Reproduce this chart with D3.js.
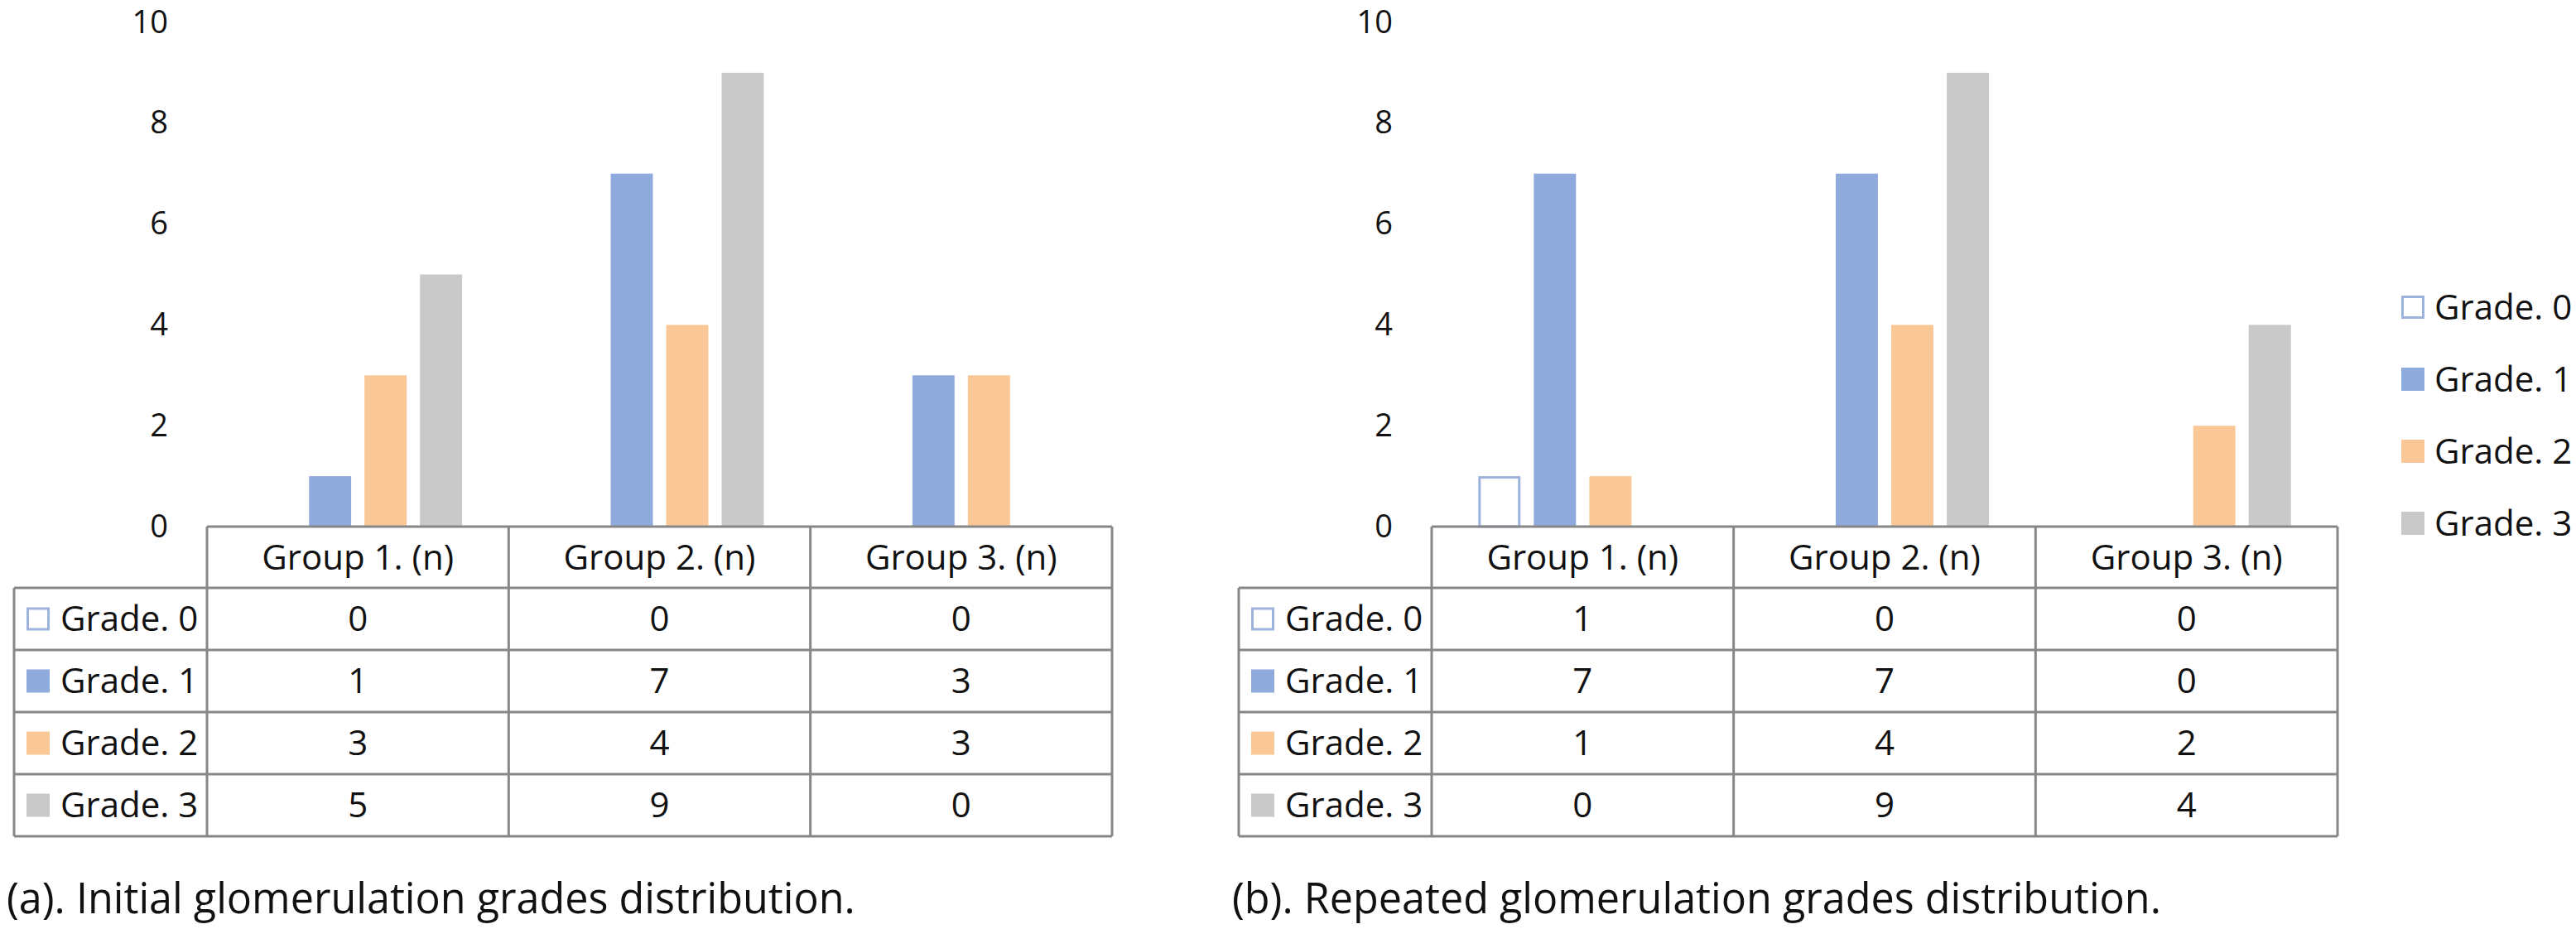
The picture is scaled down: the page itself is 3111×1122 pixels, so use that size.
<!DOCTYPE html>
<html>
<head>
<meta charset="utf-8">
<script src="https://cdn.jsdelivr.net/npm/d3@7"></script>
<style>
  body { margin: 0; background: #fff; }
  text { font-family: "Open Sans", sans-serif; fill: #111; }
</style>
</head>
<body>
<script>
// Chart data
let groups = ["Group 1. (n)", "Group 2. (n)", "Group 3. (n)"];
let grades = ["Grade. 0", "Grade. 1", "Grade. 2", "Grade. 3"];
// one row per grade, one value per group
let initialCounts = [[0, 0, 0], [1, 7, 3], [3, 4, 3], [5, 9, 0]];
let repeatedCounts = [[1, 0, 0], [7, 7, 0], [1, 4, 2], [0, 9, 4]];
let yTicks = [0, 2, 4, 6, 8, 10];
let captionA = "(a). Initial glomerulation grades distribution.";
let captionB = "(b). Repeated glomerulation grades distribution.";

let width = 3111;
let height = 1122;

// Colour palette
let grade_fill = ["#ffffff", "#8faadc", "#fac896", "#c9c9c9"];
let grade_stroke = ["#9db3db", "none", "none", "none"];
let table_color = "#878787";
let font_size = 42;
let tick_size = 38;

let svg = d3.select("body")
            .append("svg")
            .attr("width", width)
            .attr("height", height);

let y = d3.scaleLinear().domain([0, 10]).range([636, 27]);

function drawPanel(counts, left, right, labelLeft, caption, captionX) {
    let g = svg.append("g");

    // y axis labels only
    let axis = g.append("g")
                .attr("transform", "translate(" + left + ",0)")
                .call(d3.axisLeft(y).tickValues(yTicks).tickSize(0).tickPadding(47));
    axis.select(".domain").remove();
    axis.selectAll("text")
        .attr("font-size", tick_size)
        .attr("font-family", "Open Sans")
        .attr("fill", "#111");

    let x0 = d3.scaleBand().domain(groups).range([left, right]);
    let x1 = d3.scaleBand().domain(grades).range([0, x0.bandwidth()])
               .paddingInner(0.24).paddingOuter(0.84);

    // bars
    let bars = [];
    grades.forEach(function(gr, i) {
        groups.forEach(function(grp, j) {
            if (counts[i][j] > 0) bars.push({grade: gr, gi: i, group: grp, value: counts[i][j]});
        });
    });
    g.selectAll("rect.bar")
        .data(bars)
        .enter()
        .append("rect")
        .attr("class", "bar")
        .attr("x", d => x0(d.group) + x1(d.grade) + (d.gi === 0 ? 1.5 : 0))
        .attr("y", d => y(d.value) + (d.gi === 0 ? 1.5 : 0))
        .attr("width", d => x1.bandwidth() - (d.gi === 0 ? 3 : 0))
        .attr("height", d => y(0) - y(d.value) - (d.gi === 0 ? 1.5 : 0))
        .attr("fill", d => grade_fill[d.gi])
        .attr("stroke", d => grade_stroke[d.gi])
        .attr("stroke-width", 3);

    // data table
    let top = y(0);
    let headerBottom = 710;
    let rowH = (1010 - headerBottom) / grades.length;
    let line = (x1_, y1_, x2_, y2_) => g.append("line")
        .attr("x1", x1_).attr("y1", y1_).attr("x2", x2_).attr("y2", y2_)
        .attr("stroke", table_color).attr("stroke-width", 3);

    line(left, top, right, top);
    line(labelLeft, headerBottom, right, headerBottom);
    grades.forEach(function(gr, i) {
        line(labelLeft, headerBottom + rowH * (i + 1), right, headerBottom + rowH * (i + 1));
    });
    line(labelLeft, headerBottom, labelLeft, 1010);
    line(left, top, left, 1010);
    groups.forEach(function(grp) {
        line(x0(grp) + x0.bandwidth(), top, x0(grp) + x0.bandwidth(), 1010);
    });

    g.selectAll("text.head")
        .data(groups)
        .enter()
        .append("text")
        .attr("class", "head")
        .attr("x", d => x0(d) + x0.bandwidth() / 2)
        .attr("y", (top + headerBottom) / 2)
        .attr("dy", "0.35em")
        .attr("text-anchor", "middle")
        .attr("font-size", font_size)
        .text(d => d);

    grades.forEach(function(gr, i) {
        let cy = headerBottom + rowH * (i + 0.5);
        g.append("rect")
            .attr("x", labelLeft + 15 + (i === 0 ? 1.5 : 0))
            .attr("y", cy - 14 + (i === 0 ? 1.5 : 0))
            .attr("width", i === 0 ? 25 : 28)
            .attr("height", i === 0 ? 25 : 28)
            .attr("fill", grade_fill[i])
            .attr("stroke", grade_stroke[i])
            .attr("stroke-width", 3);
        g.append("text")
            .attr("x", labelLeft + 56)
            .attr("y", cy)
            .attr("dy", "0.35em")
            .attr("font-size", font_size)
            .text(gr);
        groups.forEach(function(grp, j) {
            g.append("text")
                .attr("x", x0(grp) + x0.bandwidth() / 2)
                .attr("y", cy)
                .attr("dy", "0.35em")
                .attr("text-anchor", "middle")
                .attr("font-size", font_size)
                .text(counts[i][j]);
        });
    });

    return g.append("text")
        .attr("x", captionX)
        .attr("y", 1103)
        .attr("font-size", font_size)
        .text(caption);
}

let capA = drawPanel(initialCounts, 250, 1343, 17, captionA, 8);
let capB = drawPanel(repeatedCounts, 1729, 2823, 1496, captionB, 1488);

// fit caption size to the width seen in the reference (about 1025px for (a))
let capSize = font_size * 1025 / capA.node().getComputedTextLength();
capA.attr("font-size", capSize);
capB.attr("font-size", capSize);

// legend (right panel only)
let legend = svg.append("g").attr("transform", "translate(2900,0)");
let legendY = d3.scalePoint().domain(grades).range([371, 632]);
grades.forEach(function(gr, i) {
    legend.append("rect")
        .attr("x", i === 0 ? 1.5 : 0)
        .attr("y", legendY(gr) - 14 + (i === 0 ? 1.5 : 0))
        .attr("width", i === 0 ? 25 : 28)
        .attr("height", i === 0 ? 25 : 28)
        .attr("fill", grade_fill[i])
        .attr("stroke", grade_stroke[i])
        .attr("stroke-width", 3);
    legend.append("text")
        .attr("x", 40)
        .attr("y", legendY(gr))
        .attr("dy", "0.35em")
        .attr("font-size", font_size)
        .text(gr);
});
</script>
</body>
</html>
